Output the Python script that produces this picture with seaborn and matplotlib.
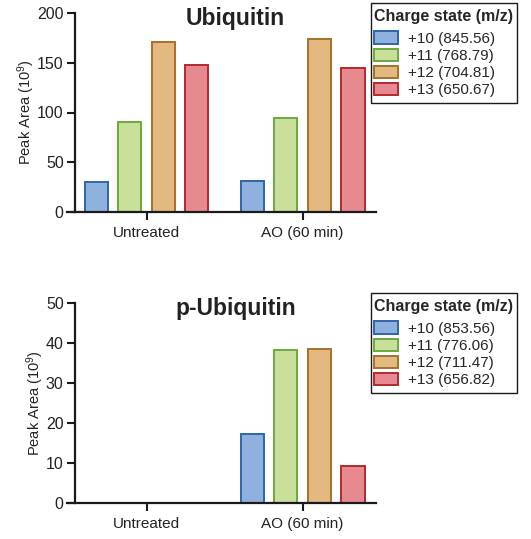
import numpy as np
import pandas as pd
import seaborn as sns
import matplotlib
matplotlib.use("Agg")
import matplotlib.pyplot as plt
from matplotlib.patches import Patch, Rectangle

# ---- data ----
groups = ["Untreated", "AO (60 min)"]
charges = ["+10", "+11", "+12", "+13"]
ubi_mz = ["845.56", "768.79", "704.81", "650.67"]
pubi_mz = ["853.56", "776.06", "711.47", "656.82"]
ubi_untreated = [30.5, 90, 171, 147.5]
ubi_ao = [31.5, 94.5, 173.5, 144.5]
pubi_untreated = [0, 0, 0, 0]
pubi_ao = [17.4, 38.3, 38.6, 9.4]
fill_colors = ["#8FB1DE", "#C9E09B", "#E4B97F", "#E68A8F"]
edge_colors = ["#2F66AA", "#6BA83D", "#A6712C", "#B2292F"]

sns.set_theme(style="ticks")
plt.rcParams["font.family"] = ["Liberation Sans", "DejaVu Sans"]
plt.rcParams["mathtext.default"] = "regular"

fig = plt.figure(figsize=(5.31, 5.39), dpi=100)
W, H = 531, 539

def make_ax(x0, x1, ytop, ybot):
    return fig.add_axes([x0 / W, 1 - ybot / H, (x1 - x0) / W, (ybot - ytop) / H])

def panel(ax, vals_u, vals_a, mz, title, ymax, yticks, leg_top):
    df = pd.DataFrame({
        "group": [groups[0]] * 4 + [groups[1]] * 4,
        "charge": charges * 2,
        "value": list(vals_u) + list(vals_a),
    })
    sns.barplot(data=df, x="group", y="value", hue="charge", order=groups,
                hue_order=charges, palette=fill_colors, width=0.86, gap=0.31,
                ax=ax, legend=False, saturation=1)
    for cont, ec in zip(ax.containers, edge_colors):
        for p in cont.patches:
            p.set_edgecolor(ec)
            p.set_linewidth(1.4)
            if p.get_height() == 0:
                p.set_visible(False)
    ax.set_xlim(-0.51, 1.47)
    ax.set_ylim(0, ymax)
    ax.set_yticks(yticks)
    ax.spines["left"].set_bounds(0, ymax)
    ax.spines["left"].set_position(("data", -0.46))
    ax.spines["top"].set_visible(False)
    ax.spines["right"].set_visible(False)
    for s in ["left", "bottom"]:
        ax.spines[s].set_linewidth(1.6)
        ax.spines[s].set_color("#1a1a1a")
    ax.tick_params(axis="y", length=6, width=1.5, labelsize=11.5, pad=2,
                   color="#1a1a1a", labelcolor="#222222")
    ax.tick_params(axis="x", length=6, width=1.5, labelsize=11, pad=4,
                   color="#1a1a1a", labelcolor="#222222")
    ax.set_xlabel("")
    ax.set_ylabel(r"Peak Area (10$^{9}$)", fontsize=10.5, color="#222222", labelpad=0)
    ax.text(0.545, 1.03, title, transform=ax.transAxes, ha="center", va="top",
            fontsize=16.5, fontweight="bold", color="#222222")
    handles = [Patch(facecolor=f, edgecolor=e, linewidth=1.4,
                     label=f"{c} ({m})")
               for f, e, c, m in zip(fill_colors, edge_colors, charges, mz)]
    # legend frame
    fig.patches.append(Rectangle((371 / W, 1 - (leg_top + 100) / H), 146 / W, 100 / H,
                                 transform=fig.transFigure, facecolor="white",
                                 edgecolor="#1a1a1a", linewidth=1.0, zorder=0))
    leg = fig.legend(handles=handles, title="Charge state (m/z)", loc="upper left",
                     bbox_to_anchor=(374 / W, 1 - (leg_top + 6.5) / H),
                     bbox_transform=fig.transFigure, borderaxespad=0,
                     frameon=False, fontsize=11,
                     title_fontproperties={"weight": "bold", "size": 11.5},
                     handlelength=1.55, handleheight=0.85, handletextpad=0.65,
                     labelspacing=0.18, borderpad=0)
    leg._legend_box.sep = 5
    leg._legend_box.align = "left"

ax1 = make_ax(67, 376, 13, 212)
panel(ax1, ubi_untreated, ubi_ao, ubi_mz, "Ubiquitin", 200, [0, 50, 100, 150, 200], 3)
ax2 = make_ax(67, 376, 303, 503.3)
panel(ax2, pubi_untreated, pubi_ao, pubi_mz, "p-Ubiquitin", 50, [0, 10, 20, 30, 40, 50], 293)

fig.savefig("out.png", dpi=100)
